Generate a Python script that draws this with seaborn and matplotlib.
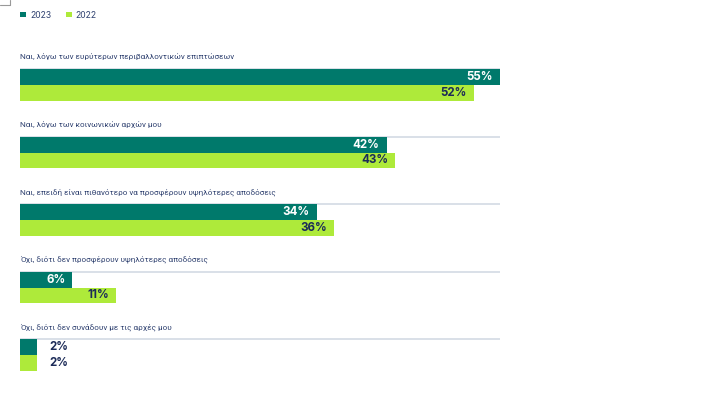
import matplotlib
matplotlib.use("Agg")
import matplotlib.pyplot as plt
from matplotlib.lines import Line2D
from matplotlib.patches import Patch
import seaborn as sns
import pandas as pd

categories = [
    "Ναι, λόγω των ευρύτερων περιβαλλοντικών επιπτώσεων",
    "Ναι, λόγω των κοινωνικών αρχών μου",
    "Ναι, επειδή είναι πιθανότερο να προσφέρουν υψηλότερες αποδόσεις",
    "Όχι, διότι δεν προσφέρουν υψηλότερες αποδόσεις",
    "Όχι, διότι δεν συνάδουν με τις αρχές μου",
]
years = ["2023", "2022"]
values_2023 = [55, 42, 34, 6, 2]
values_2022 = [52, 43, 36, 11, 2]

TEAL = "#00796b"
LIME = "#aeea3a"
NAVY = "#1c2b58"
TITLE_C = "#2f4170"
LINE_C = "#d3dae4"

sns.set_theme(style="white")
plt.rcParams["font.family"] = ["Roboto", "DejaVu Sans"]

df = pd.DataFrame({
    "category": categories * 2,
    "year": [years[0]] * len(categories) + [years[1]] * len(categories),
    "value": values_2023 + values_2022,
})

fig = plt.figure(figsize=(7.12, 3.96), dpi=100)
ax = fig.add_axes([20 / 712, (396 - 388.75) / 396, 480 / 712, 337.5 / 396])

bw = 0.474
sns.barplot(data=df, y="category", x="value", hue="year", hue_order=years,
            order=categories, palette=[TEAL, LIME], width=bw, dodge=True,
            orient="h", ax=ax, legend=False, saturation=1, zorder=3,
            linewidth=0, edgecolor="none")

ax.set_xlim(0, 55)
ax.set_ylim(len(categories) - 0.5, -0.5)
ax.set_axis_off()

for i, cat in enumerate(categories):
    ax.hlines(i - bw / 2, 0, 55, color=LINE_C, lw=1.2, zorder=2)
    ax.text(0, i - bw / 2 - 0.178, cat, fontsize=5.85, color=TITLE_C,
            ha="left", va="center")

for cont, vals, col in zip(ax.containers, [values_2023, values_2022], ["white", NAVY]):
    for patch, v in zip(cont.patches, vals):
        yc = patch.get_y() + patch.get_height() / 2
        w = patch.get_width()
        if v < 4:
            ax.annotate(f"{v}%", xy=(w, yc), xytext=(12, 0), textcoords="offset pixels",
                        ha="left", va="center", fontsize=8.3, fontweight="bold",
                        color=NAVY, zorder=5, family=["Inter", "DejaVu Sans"])
        else:
            ax.annotate(f"{v}%", xy=(w, yc), xytext=(-7, 0), textcoords="offset pixels",
                        ha="right", va="center", fontsize=8.3, fontweight="bold",
                        color=col, zorder=5, family=["Inter", "DejaVu Sans"])

handles = [Patch(facecolor=TEAL, edgecolor="none", label=years[0]),
           Patch(facecolor=LIME, edgecolor="none", label=years[1])]
fig.legend(handles=handles, loc="center left", bbox_to_anchor=(16 / 712, 1 - 15 / 396),
           ncol=2, frameon=False, handlelength=0.65, handleheight=0.65,
           handletextpad=0.5, columnspacing=1.7, labelcolor=TITLE_C, borderpad=0,
           prop={"family": ["Inter", "DejaVu Sans"], "size": 6.2})

fig.add_artist(Line2D([10 / 712, 10 / 712], [1, 1 - 5 / 396], color="#999999", lw=0.8))
fig.add_artist(Line2D([0, 10 / 712], [1 - 5 / 396, 1 - 5 / 396], color="#999999", lw=0.8))

fig.savefig("out.png", dpi=100)
